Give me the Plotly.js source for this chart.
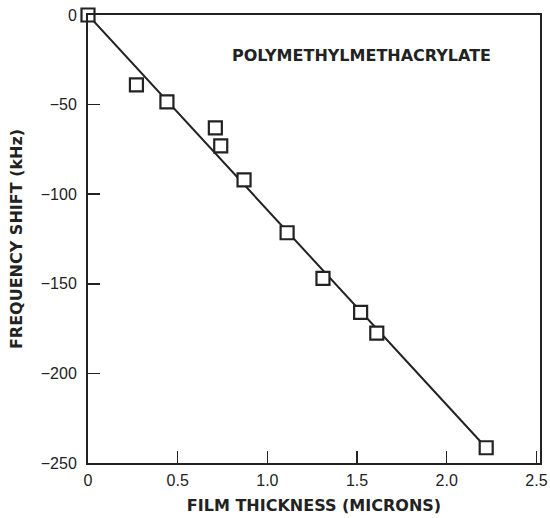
<!DOCTYPE html>
<html>
<head>
<meta charset="utf-8">
<script src="https://cdn.plot.ly/plotly-3.0.1.min.js"></script>
<style>html,body{margin:0;padding:0;background:#fff;}#chart{width:550px;height:518px;}</style>
</head>
<body>
<div id="chart"></div>
<script>
var thickness = [0, 0.27, 0.44, 0.71, 0.74, 0.87, 1.11, 1.31, 1.52, 1.61, 2.22];
var freqShift = [0, -39, -48.5, -63, -73, -92, -121.5, -147, -166, -177.5, -241.5];
var fitX = [0, 2.22];
var fitY = [0, -241.5];
var xTicks = [0, 0.5, 1.0, 1.5, 2.0, 2.5];
var xTickText = ['0', '0.5', '1.0', '1.5', '2.0', '2.5'];
var yTicks = [0, -50, -100, -150, -200, -250];
var yTickText = ['0', '\u221250', '\u2212100', '\u2212150', '\u2212200', '\u2212250'];

var ink = '#222';
var tickFam = 'Liberation Sans, Arial, sans-serif';
var titleFam = 'DejaVu Sans, sans-serif';

var traces = [
  {x: fitX, y: fitY, mode: 'lines', line: {color: ink, width: 2}, hoverinfo: 'skip', cliponaxis: false},
  {x: thickness, y: freqShift, mode: 'markers', cliponaxis: false,
   marker: {symbol: 'square', size: 13, color: '#fff', line: {color: ink, width: 2.2}}}
];

var layout = {
  width: 550, height: 518,
  margin: {l: 88, r: 10, t: 15, b: 55},
  paper_bgcolor: '#fff', plot_bgcolor: '#fff',
  showlegend: false,
  font: {family: tickFam, color: ink, size: 16},
  xaxis: {
    range: [0, 2.52], tickvals: xTicks, ticktext: xTickText,
    ticks: 'inside', ticklen: 12, tickwidth: 1.5, tickcolor: ink,
    showline: true, linecolor: ink, linewidth: 2, mirror: true,
    showgrid: false, zeroline: false, ticklabelstandoff: 2,
    tickfont: {size: 16, family: tickFam, color: ink},
    title: {text: 'FILM THICKNESS (MICRONS)', font: {size: 16, family: titleFam, color: ink, weight: 'bold'}, standoff: 12}
  },
  yaxis: {
    range: [-250, 0], tickvals: yTicks, ticktext: yTickText,
    ticks: 'inside', ticklen: 12, tickwidth: 1.5, tickcolor: ink,
    showline: true, linecolor: ink, linewidth: 2, mirror: true,
    showgrid: false, zeroline: false, ticklabelstandoff: 6,
    tickfont: {size: 16, family: tickFam, color: ink},
    title: {text: 'FREQUENCY SHIFT (kHz)', font: {size: 16, family: titleFam, color: ink, weight: 'bold'}, standoff: 14}
  },
  annotations: [{
    x: 0.606, y: 0.91, xref: 'paper', yref: 'paper', xanchor: 'center', yanchor: 'middle',
    text: 'POLYMETHYLMETHACRYLATE', showarrow: false,
    font: {size: 16, family: titleFam, color: ink, weight: 'bold'}
  }]
};

Plotly.newPlot('chart', traces, layout, {displayModeBar: false, staticPlot: true});
</script>
</body>
</html>
